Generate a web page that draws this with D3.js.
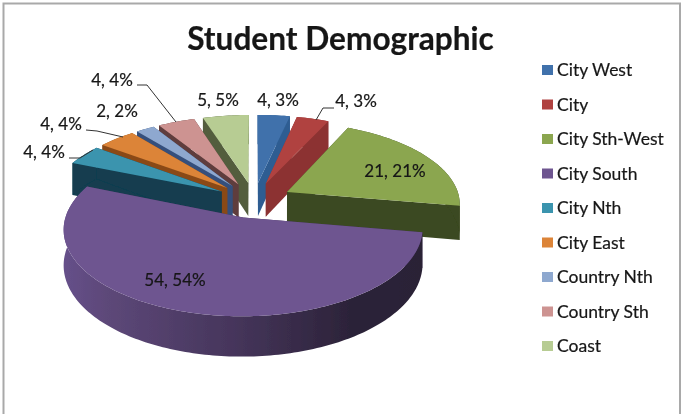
<!DOCTYPE html>
<html><head><meta charset="utf-8">
<script src="https://cdn.jsdelivr.net/npm/d3@7"></script>
<style>html,body{margin:0;padding:0;background:#fff}svg{display:block}text{font-family:Lato,Carlito,sans-serif;fill:#161616;stroke:#161616;stroke-width:.2}</style>
</head><body><svg id="c" width="681" height="414"></svg>
<script>
const categories=["City West","City","City Sth-West","City South","City Nth","City East","Country Nth","Country Sth","Coast"];
const values=[3.5,3.5,21,54,4,4,2,4,5];
const labels=["4, 3%","4, 3%","21, 21%","54, 54%","4, 4%","4, 4%","2, 2%","4, 4%","5, 5%"];
const topColors=["#3f71ab","#b04341","#8ba650","#6e5590","#3b94ae","#dc8437","#8ea8cf","#cd9391","#b7cc93"];
const sideColors=["#2f5d92","#8c3231","#3a4820","#3f3055","#123e50","#8a4a18","#35507c","#5e3c3c","#525d3e"];

const W=681,H=414;
const cx=254,cy=200,F=173,G=81,K=0.13,depth=34,explode=0.218;
const svg=d3.select("#c");
const defs=svg.append("defs");
defs.append("filter").attr("id","soft").attr("x","-5%").attr("y","-5%").attr("width","110%").attr("height","110%")
  .append("feGaussianBlur").attr("stdDeviation",0.45);
const grad=defs.append("linearGradient").attr("id","rim").attr("gradientUnits","userSpaceOnUse")
  .attr("x1",63).attr("x2",421).attr("y1",0).attr("y2",0);
[[0,"#66508a"],[0.12,"#5d4879"],[0.5,"#443459"],[0.8,"#2c2339"],[1,"#2a2136"]].forEach(([o,c])=>grad.append("stop").attr("offset",o).attr("stop-color",c));

const root=svg.append("g").attr("filter","url(#soft)");
root.append("path").attr("d",`M3.5,${H} V3.5 H680 V${H}`).attr("fill","none").attr("stroke","#a9a9a9").attr("stroke-width",2);

const pie=d3.pie().sort(null).value(d=>d);
const arcs=pie(values).map((a,i)=>({...a,i,mid:(a.startAngle+a.endAngle)/2}));

function project(a,r,theta,z){
  const X=explode*Math.sin(a.mid)+r*Math.sin(theta);
  const Y=explode*Math.cos(a.mid)+r*Math.cos(theta);
  const s=1/(1+K*Y);
  return [cx+F*X*s, cy-G*Y*s+z*depth*s];
}
const line=d3.line();
function rimPts(a,z){
  const t0=a.startAngle,t1=a.endAngle;
  const n=Math.max(2,Math.ceil((t1-t0)/0.02));
  return d3.range(n+1).map(j=>project(a,1,t0+(t1-t0)*j/n,z));
}
const order=[...arcs].sort((p,q)=>d3.descending(Math.cos(p.mid),Math.cos(q.mid)));
order.forEach(a=>{
  const g=root.append("g");
  const fill=a.i===3?"url(#rim)":sideColors[a.i];
  [a.startAngle,a.endAngle].forEach(t=>{
    g.append("path").attr("d",line([project(a,0,0,0),project(a,1,t,0),project(a,1,t,1),project(a,0,0,1)])+"Z")
      .attr("fill",sideColors[a.i]);
  });
  const top=rimPts(a,0),bot=rimPts(a,1).reverse();
  g.append("path").attr("d",line(top.concat(bot))+"Z").attr("fill",fill);
  g.append("path").attr("d",line([project(a,0,0,0),...top])+"Z").attr("fill",topColors[a.i]);
});

const labelPos=[[278,100],[356,101],[395,171],[175,280],[44,152],[61,124],[117,111],[112,80],[218,100]];
const leaderPaths=[null,[[334,108],[323,108],[316,120]],null,null,[[69,158],[80,158],[93,150]],[[86,130],[97,131],[123,137]],null,[[137,85],[147,85],[176,122]],null];
arcs.forEach(a=>{
  if(leaderPaths[a.i]) root.append("path").attr("d",line(leaderPaths[a.i]))
    .attr("fill","none").attr("stroke","#333").attr("stroke-width",1);
  root.append("text").attr("x",labelPos[a.i][0]).attr("y",labelPos[a.i][1]+6).attr("text-anchor","middle")
    .attr("font-size",17).text(labels[a.i]);
});

root.append("text").attr("x",340.5).attr("y",50).attr("text-anchor","middle").attr("font-size",31.6).attr("font-weight",700)
  .text("Student Demographic");

const ly=d3.scalePoint().domain(categories).range([70,346]);
const leg=root.selectAll("g.leg").data(categories).join("g").attr("class","leg").attr("transform",d=>`translate(0,${ly(d)})`);
leg.append("rect").attr("x",542).attr("y",-5).attr("width",11).attr("height",10).attr("fill",(d,i)=>topColors[i]);
leg.append("text").attr("x",557).attr("y",6).attr("font-size",17.5).text(d=>d);
</script></body></html>
